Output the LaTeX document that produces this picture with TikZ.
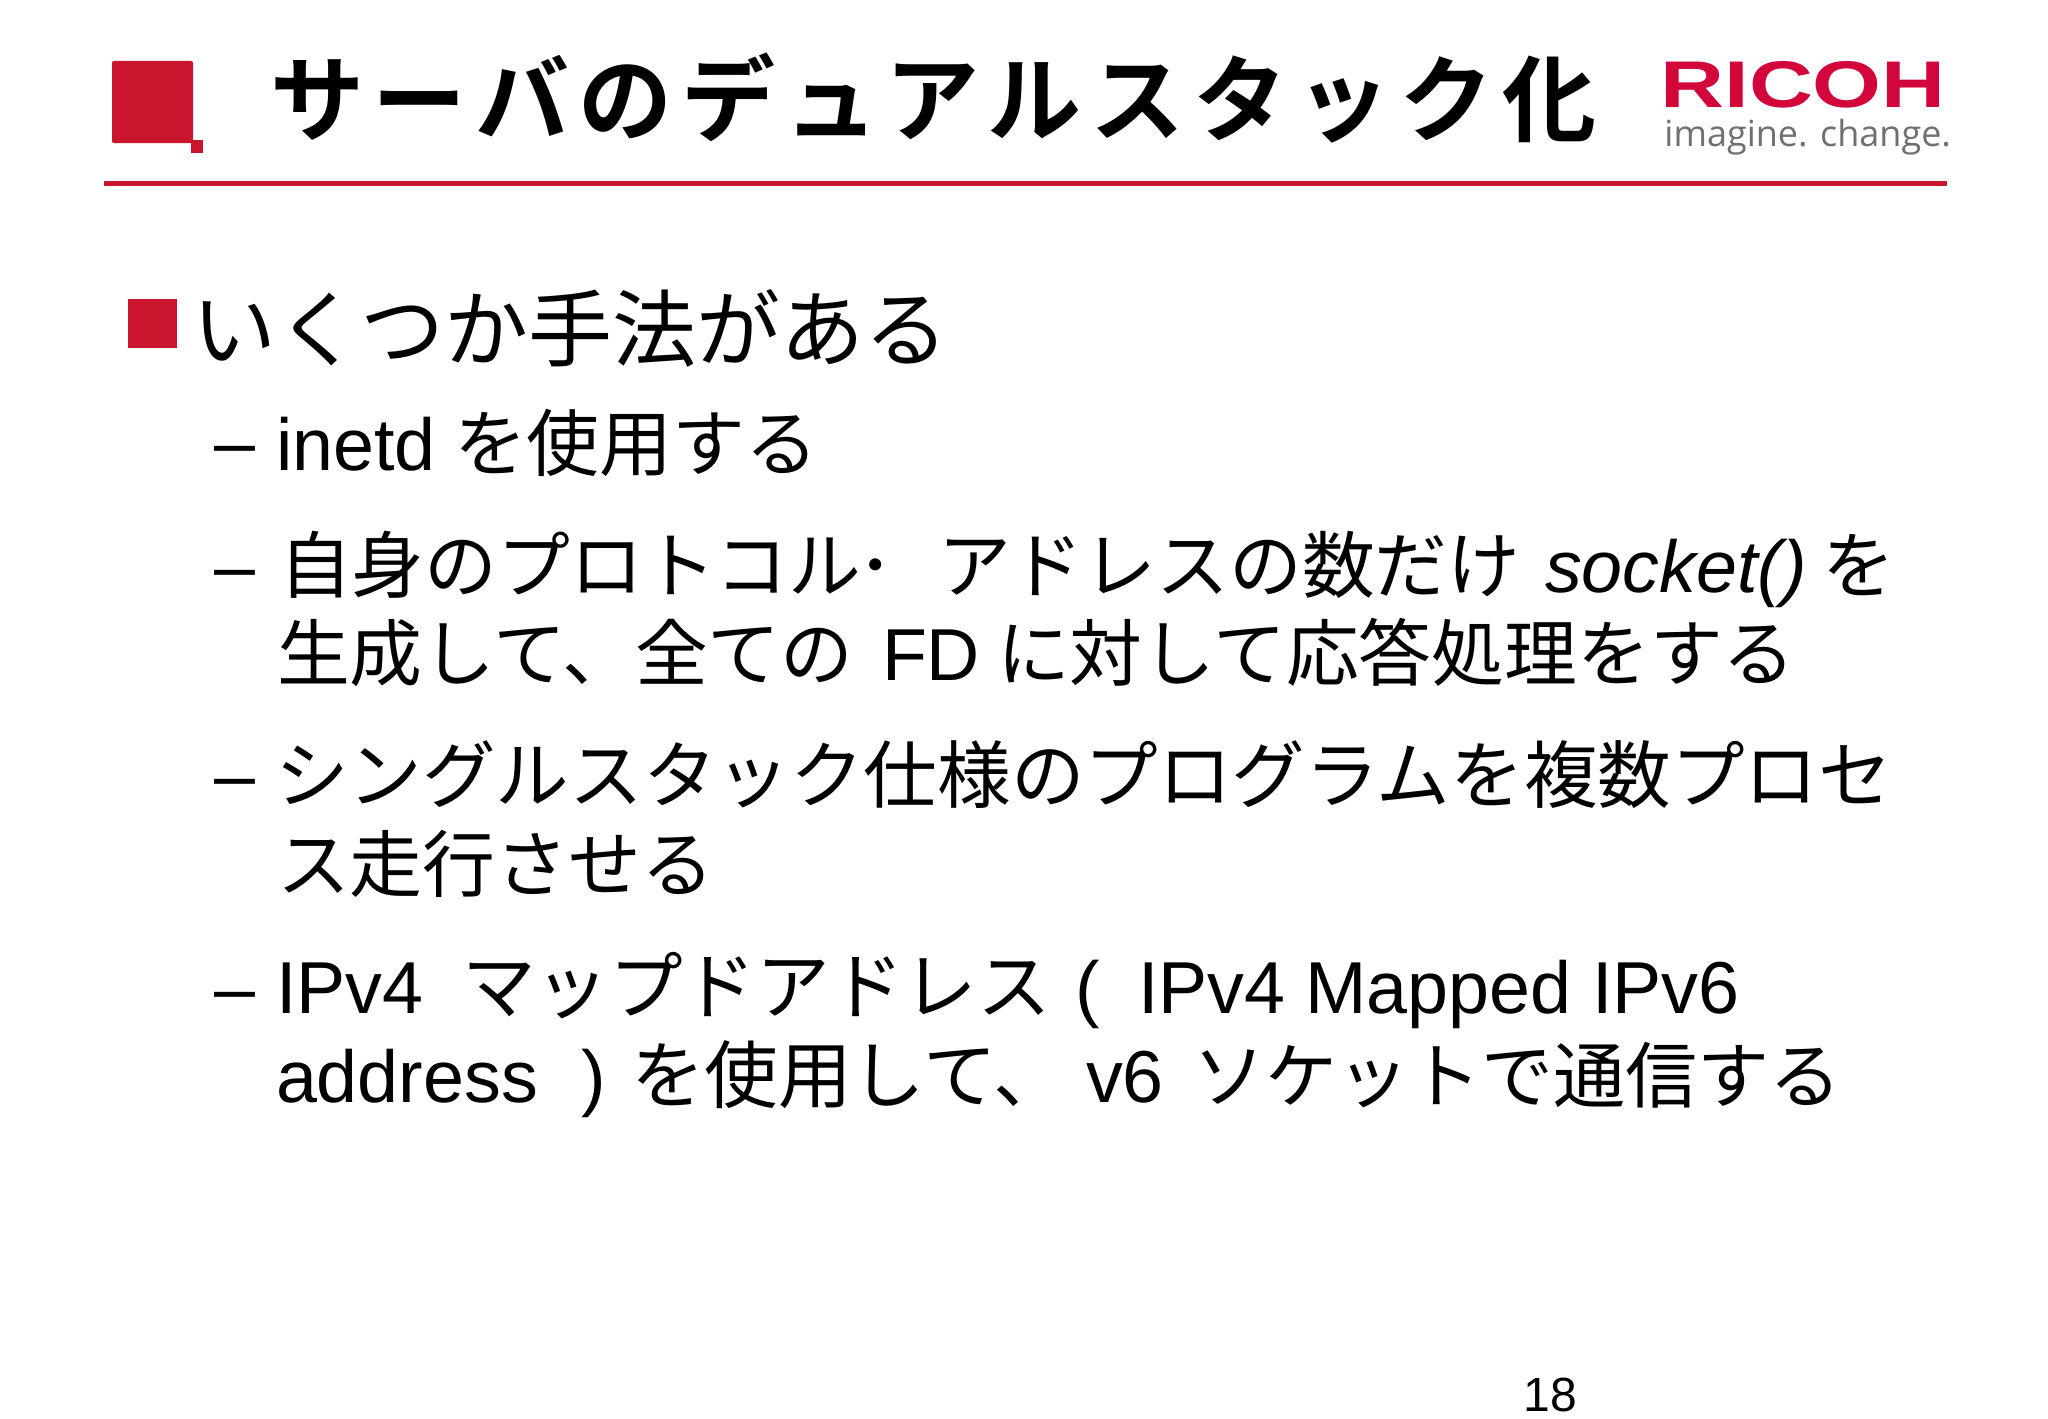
\documentclass[tikz,border=0pt]{standalone}
\usepackage{fontspec}
\setmainfont{Liberation Sans}
\newfontfamily\jpf{Noto Sans CJK JP}
\newfontfamily\jpb[LetterSpace=9.6]{Noto Sans CJK JP Bold}
\newfontfamily\logof{Open Sans}
\definecolor{rred}{HTML}{C9162E}
\definecolor{lred}{HTML}{D2063A}
\definecolor{lgray}{HTML}{6F7072}
\tikzset{
  px/.style={x=0.5pt,y=-0.5pt},
  seg/.style={anchor=base west,inner sep=0pt,outer sep=0pt,text=black,font=\fontsize{36.8}{36.8}\selectfont},
  jp/.style={seg,font=\fontsize{36.4}{36.4}\selectfont\jpf},
  jpw/.style={seg,font=\fontsize{36.8}{36.8}\selectfont\jpf},
  bar/.style={fill=rred,draw=none}
}
\begin{document}
\begin{tikzpicture}[px]
\useasboundingbox (0,0) rectangle (2048,1418);
\fill[white] (0,0) rectangle (2048,1418);
% header
\fill[rred,rounded corners=1pt] (112,61) rectangle (193,143);
\fill[bar] (191,140) rectangle (203,153);
\fill[bar] (104,181) rectangle (1947,186);
\node[jp,font=\fontsize{47}{47}\selectfont\jpb] (title) at (270,134) {サーバのデュアルスタック化};
\node[anchor=base west,inner sep=0pt,text=lred,font=\fontsize{33}{33}\selectfont\bfseries] (ricoh) at (1660,107) {\scalebox{1.342}[1]{RICOH}};
\node[anchor=base west,inner sep=0pt,text=lgray,font=\fontsize{18}{18}\selectfont\logof] (tag) at (1664,146) {imagine. change.};
% level one
\fill[bar] (128,299) rectangle (177,348);
\node[jp,font=\fontsize{42}{42}\selectfont\jpf] (l1) at (192,360) {いくつか手法がある};
% level two dashes
\node[seg] (d1) at (214,467) {–};
\node[seg] (d2) at (214,591) {–};
\node[seg] (d3) at (214,800) {–};
\node[seg] (d4) at (214,1013) {–};
% inetd
\node[seg] (a1) at (276,470) {inetd};
\node[jp] (a2) at (454,470) {を使用する};
% line 2
\node[jp] (b1) at (279,592) {自身のプロトコル\hspace{-2pt}･};
\node[jp] (b2) at (938,592) {アドレスの数だけ};
\node[seg,font=\fontsize{36.8}{36.8}\selectfont\itshape] (b3) at (1545,592) {socket()};
\node[jp] (b4) at (1822,592) {を};
% line 3
\node[jp] (c1) at (277,680) {生成して、全ての};
\node[seg] (c2) at (882,680) {FD};
\node[jp] (c3) at (997,680) {に対して応答処理をする};
% line 4
\node[jpw] (e1) at (275,802) {シングルスタック仕様のプログラムを複数プロセ};
% line 5
\node[jp] (f1) at (277,891) {ス走行させる};
% line 6
\node[seg] (g1) at (276,1013) {IPv4};
\node[jpw] (g2) at (462,1013) {マップドアドレス};
\node[seg] (g3) at (1075,1013) {(};
\node[seg] (g4) at (1138,1013) {IPv4 Mapped IPv6};
% line 7
\node[seg] (h1) at (276,1102) {address};
\node[seg] (h2) at (581,1102) {)};
\node[jpw] (h3) at (631,1102) {を使用して、};
\node[seg] (h4) at (1086,1102) {v6};
\node[jp,font=\fontsize{36}{36}\selectfont\jpf] (h5) at (1193,1102) {ソケットで通信する};
% page number
\node[seg,anchor=base,font=\fontsize{24}{24}\selectfont] (pg) at (1550,1411) {18};
\end{tikzpicture}
\end{document}
